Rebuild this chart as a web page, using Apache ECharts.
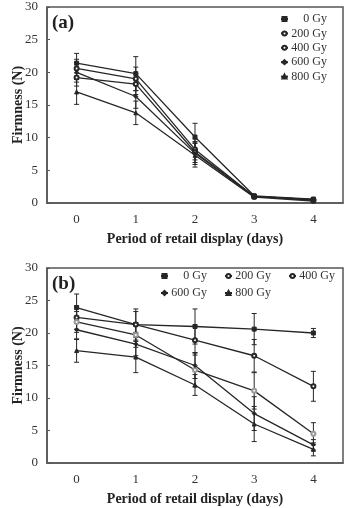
<!DOCTYPE html>
<html>
<head>
<meta charset="utf-8">
<script src="https://cdn.jsdelivr.net/npm/echarts@6/dist/echarts.min.js"></script>
<style>
  html, body { margin: 0; padding: 0; background: #fff; }
  #chart { width: 347px; height: 508px; }
</style>
</head>
<body>
<div id="chart"></div>
<script>
// days on the x axis, doses for the legend
const days = ['0', '1', '2', '3', '4'];
const doses = ['0 Gy', '200 Gy', '400 Gy', '600 Gy', '800 Gy'];

// panel (a) means and error bars
const a0 = [21.4, 19.8, 10.1, 1.1, 0.6];
const a200 = [20.6, 19.0, 8.2, 1.0, 0.5];
const a400 = [19.2, 18.2, 7.8, 1.0, 0.4];
const a600 = [20.0, 16.3, 7.6, 1.0, 0.5];
const a800 = [17.0, 13.8, 7.3, 0.9, 0.3];
const ea0 = [1.5, 2.6, 2.1, 0.2, 0.2];
const ea200 = [1.4, 1.8, 1.6, 0.2, 0.2];
const ea400 = [1.3, 1.6, 1.6, 0.2, 0.2];
const ea600 = [1.5, 1.8, 1.7, 0.2, 0.2];
const ea800 = [1.9, 1.8, 1.8, 0.2, 0.2];

// panel (b) means and error bars
const b0 = [23.9, 21.3, 21.0, 20.6, 20.0];
const b200 = [22.4, 21.3, 18.9, 16.5, 11.8];
const b400 = [21.7, 19.7, 14.3, 11.1, 4.5];
const b600 = [20.5, 18.3, 15.0, 7.6, 2.8];
const b800 = [17.3, 16.3, 12.0, 6.0, 2.1];
const eb0 = [2.1, 2.4, 2.7, 2.4, 0.7];
const eb200 = [1.8, 2.0, 2.3, 2.5, 2.3];
const eb400 = [1.6, 1.9, 2.6, 2.8, 1.7];
const eb600 = [1.5, 1.8, 2.0, 2.6, 0.8];
const eb800 = [1.8, 2.4, 1.6, 2.7, 1.0];

const yTicks = [0, 5, 10, 15, 20, 25, 30];

const serif = "'Liberation Serif', 'Times New Roman', serif";
const ink = '#262626';

const symbols = ['rect', 'emptyCircle', 'emptyCircle', 'diamond', 'triangle'];
const symbolSizes = [4, 4, 4, 4, 4];

function lineSeries(name, values, gi, idx, markColor) {
  return {
    type: 'line',
    name: name,
    xAxisIndex: gi,
    yAxisIndex: gi,
    data: values,
    symbol: symbols[idx],
    symbolSize: symbolSizes[idx],
    showSymbol: true,
    lineStyle: { color: ink, width: 1.3 },
    itemStyle: { color: markColor || ink, borderColor: markColor || ink, borderWidth: 1 },
    z: 3,
    animation: false
  };
}

function errorSeries(name, values, errs, gi) {
  return {
    type: 'custom',
    name: 'err ' + name,
    xAxisIndex: gi,
    yAxisIndex: gi,
    silent: true,
    z: 2,
    data: values.map((v, i) => [i, v - errs[i], v + errs[i]]),
    renderItem: function (params, api) {
      const lo = api.coord([api.value(0), api.value(1)]);
      const hi = api.coord([api.value(0), api.value(2)]);
      const w = 2.5;
      const st = { stroke: ink, lineWidth: 1 };
      return {
        type: 'group',
        children: [
          { type: 'line', shape: { x1: lo[0], y1: lo[1], x2: hi[0], y2: hi[1] }, style: st },
          { type: 'line', shape: { x1: lo[0] - w, y1: lo[1], x2: lo[0] + w, y2: lo[1] }, style: st },
          { type: 'line', shape: { x1: hi[0] - w, y1: hi[1], x2: hi[0] + w, y2: hi[1] }, style: st }
        ]
      };
    },
    animation: false
  };
}

function xAxisFor(gi) {
  return {
    type: 'category',
    gridIndex: gi,
    data: days,
    boundaryGap: true,
    name: 'Period of retail display (days)',
    nameLocation: 'middle',
    nameGap: 29,
    nameTextStyle: { fontFamily: serif, fontWeight: 'bold', fontSize: 14, color: '#222' },
    axisLine: { lineStyle: { color: '#555', width: 1.5 } },
    axisTick: { alignWithLabel: true, length: 4, lineStyle: { color: '#555' } },
    axisLabel: { fontFamily: serif, fontSize: 13, color: '#333', margin: 10 },
    splitLine: { show: false }
  };
}

function yAxisFor(gi) {
  return {
    type: 'value',
    gridIndex: gi,
    min: yTicks[0],
    max: yTicks[yTicks.length - 1],
    interval: 5,
    name: 'Firmness (N)',
    nameLocation: 'middle',
    nameGap: 22,
    nameMoveOverlap: false,
    nameTextStyle: { fontFamily: serif, fontWeight: 'bold', fontSize: 14, color: '#222' },
    axisLine: { show: true, lineStyle: { color: '#555', width: 1.5 } },
    axisTick: { show: true, inside: true, length: 3, lineStyle: { color: '#555' } },
    axisLabel: { fontFamily: serif, fontSize: 13, color: '#333', margin: 9 },
    splitLine: { show: false }
  };
}

// right-aligned legend text so "0 Gy" lines up with "200 Gy"
const legendText = {
  fontFamily: serif,
  fontSize: 12,
  color: '#333',
  rich: { n: { fontFamily: serif, fontSize: 12, color: '#333', width: 34, align: 'right' } }
};

function legendFor(names, left, top, orient, gap) {
  return {
    data: names,
    orient: orient,
    left: left,
    top: top,
    padding: 0,
    itemWidth: 7,
    itemHeight: 5,
    itemGap: gap,
    selectedMode: false,
    formatter: name => '{n|' + name + '}',
    textStyle: legendText
  };
}

const series = [];
const meansA = [a0, a200, a400, a600, a800];
const errsA = [ea0, ea200, ea400, ea600, ea800];
const meansB = [b0, b200, b400, b600, b800];
const errsB = [eb0, eb200, eb400, eb600, eb800];
doses.forEach((d, i) => {
  series.push(errorSeries(d, meansA[i], errsA[i], 0));
  series.push(errorSeries(d, meansB[i], errsB[i], 1));
});
doses.forEach((d, i) => {
  series.push(lineSeries(d, meansA[i], 0, i));
  series.push(lineSeries(d, meansB[i], 1, i, i === 2 ? '#999' : null));
});

const gridBase = {
  left: 47, right: 4, show: true, borderColor: '#555', borderWidth: 1.5,
  containLabel: false, outerBoundsMode: 'none'
};

const option = {
  backgroundColor: '#fff',
  animation: false,
  title: [
    { text: '(a)', left: 47, top: 9, textStyle: { fontFamily: serif, fontWeight: 'bold', fontSize: 19, color: '#222' } },
    { text: '(b)', left: 47, top: 270, textStyle: { fontFamily: serif, fontWeight: 'bold', fontSize: 19, color: '#222' } }
  ],
  grid: [
    Object.assign({}, gridBase, { top: 7, bottom: 305 }),
    Object.assign({}, gridBase, { top: 268, bottom: 45 })
  ],
  xAxis: [xAxisFor(0), xAxisFor(1)],
  yAxis: [yAxisFor(0), yAxisFor(1)],
  legend: [
    legendFor(doses, 280, 13, 'vertical', 2.4),
    legendFor(doses.slice(0, 3), 160, 270, 'horizontal', 17),
    legendFor(doses.slice(3), 160, 287, 'horizontal', 17)
  ],
  series: series
};

const chart = echarts.init(document.getElementById('chart'), null, { renderer: 'canvas' });
chart.setOption(option);
</script>
</body>
</html>
